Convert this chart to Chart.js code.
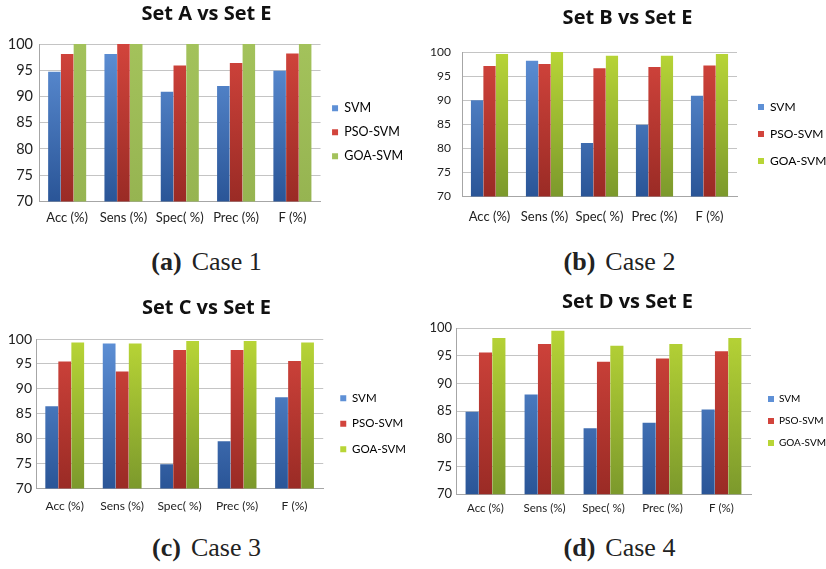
<!DOCTYPE html>
<html lang="en">
<head>
<meta charset="UTF-8">
<title>Set comparisons</title>
<script src="https://cdn.jsdelivr.net/npm/chart.js"></script>
<style>
    html, body { margin: 0; padding: 0; background: #fff; }
    .page { position: relative; width: 826px; height: 569px; overflow: hidden; }
    .panel { position: absolute; }
    .caption {
        position: absolute; width: 413px; text-align: center;
        font-family: "Liberation Serif", "DejaVu Serif", serif; font-size: 26px; color: #222;
    }
    .caption b { margin-right: 10px; }
</style>
</head>
<body>
<div class="page">
    <div class="panel" style="left:0;top:0"><canvas id="chartA"></canvas></div>
    <div class="panel" style="left:413px;top:0"><canvas id="chartB"></canvas></div>
    <div class="panel" style="left:0;top:285px"><canvas id="chartC"></canvas></div>
    <div class="panel" style="left:413px;top:285px"><canvas id="chartD"></canvas></div>
    <div class="caption" style="left:0;top:247px"><b>(a)</b>Case 1</div>
    <div class="caption" style="left:413px;top:247px"><b>(b)</b>Case 2</div>
    <div class="caption" style="left:0;top:533px"><b>(c)</b>Case 3</div>
    <div class="caption" style="left:413px;top:533px"><b>(d)</b>Case 4</div>
</div>

<script>
    const categories = ['Acc (%)', 'Sens (%)', 'Spec( %)', 'Prec (%)', 'F (%)'];
    const seriesNames = ['SVM', 'PSO-SVM', 'GOA-SVM'];
    const yTicks = [70, 75, 80, 85, 90, 95, 100];

    // Set A vs Set E
    const svmA = [94.7, 98.1, 90.9, 92.0, 94.9];
    const psoA = [98.1, 100, 95.9, 96.4, 98.2];
    const goaA = [100, 100, 100, 100, 100];

    // Set B vs Set E
    const svmB = [90.0, 98.2, 81.1, 84.9, 90.9];
    const psoB = [97.1, 97.5, 96.6, 96.9, 97.2];
    const goaB = [99.6, 100, 99.2, 99.2, 99.6];

    // Set C vs Set E
    const svmC = [86.5, 99.1, 74.9, 79.5, 88.3];
    const psoC = [95.5, 93.5, 97.8, 97.8, 95.6];
    const goaC = [99.3, 99.1, 99.6, 99.6, 99.3];

    // Set D vs Set E
    const svmD = [84.9, 88.0, 81.9, 82.9, 85.3];
    const psoD = [95.6, 97.1, 93.9, 94.5, 95.8];
    const goaD = [98.2, 99.5, 96.8, 97.1, 98.2];

    const FONT = 'Lato, "Open Sans", sans-serif';
    const TITLE_FONT = '"Open Sans", Lato, sans-serif';

    // top / bottom colours of each bar gradient
    const blue = ['#5e90d6', '#2a5597'];
    const red = ['#d2443c', '#9a2b25'];
    const greenFlat = ['#a3c25b', '#96b451'];
    const greenLime = ['#b8d536', '#7c992c'];

    function grad(pair) {
        return (ctx) => {
            const area = ctx.chart.chartArea;
            if (!area) return pair[0];
            const g = ctx.chart.ctx.createLinearGradient(0, area.top, 0, area.bottom);
            g.addColorStop(0, pair[0]);
            g.addColorStop(1, pair[1]);
            return g;
        };
    }

    // move the legend away from the plot like the Excel original,
    // and widen its clip box so the labels are not cut
    const legendNudge = {
        id: 'legendNudge',
        afterLayout(chart, args, opts) {
            const lg = chart.legend;
            lg.left += opts.dx;
            lg.right = lg.left + 150;
            lg.top += opts.dy;
            lg.bottom += opts.dy;
        }
    };

    function makeChart(id, title, svm, pso, goa, green, o) {
        const box = document.getElementById(id).parentNode;
        box.style.width = o.w + 'px';
        box.style.height = o.h + 'px';
        new Chart(document.getElementById(id), {
            type: 'bar',
            plugins: [legendNudge],
            data: {
                labels: categories,
                datasets: [
                    { label: seriesNames[0], data: svm, backgroundColor: grad(blue) },
                    { label: seriesNames[1], data: pso, backgroundColor: grad(red) },
                    { label: seriesNames[2], data: goa, backgroundColor: grad(green) }
                ]
            },
            options: {
                responsive: true,
                maintainAspectRatio: false,
                animation: false,
                datasets: { bar: { categoryPercentage: 0.68, barPercentage: 0.98 } },
                layout: { padding: { left: o.padL, top: 0, bottom: 0, right: 0 } },
                plugins: {
                    legendNudge: { dx: o.dx, dy: o.dy },
                    title: {
                        display: true, text: title, color: '#111',
                        font: { family: TITLE_FONT, size: 20, weight: 'bold', lineHeight: 1.2 },
                        padding: { top: o.titleTop, bottom: o.titleBottom }
                    },
                    legend: {
                        position: 'right',
                        align: 'start',
                        maxWidth: o.w - o.right,
                        labels: {
                            boxWidth: 6, boxHeight: 6, padding: o.legendPad,
                            color: '#222', font: { family: FONT, size: o.legendSize },
                            generateLabels: (chart) => chart.data.datasets.map((ds, i) => ({
                                text: ds.label,
                                fillStyle: [blue[0], red[0], green[0]][i],
                                strokeStyle: 'transparent', lineWidth: 0,
                                datasetIndex: i
                            }))
                        }
                    },
                    tooltip: { enabled: false }
                },
                scales: {
                    x: {
                        grid: { display: false, drawTicks: false },
                        border: { color: '#a6a6a6' },
                        ticks: { color: '#222', font: { family: FONT, size: o.xSize, lineHeight: 1.2 },
                                 padding: o.xPad, maxRotation: 0, autoSkip: false }
                    },
                    y: {
                        min: 70, max: 100,
                        afterBuildTicks: (axis) => { axis.ticks = yTicks.map(v => ({ value: v })); },
                        afterFit: (axis) => { axis.width = o.left - o.padL; },
                        grid: { color: '#c4c4c4', drawTicks: false },
                        border: { color: '#a6a6a6' },
                        ticks: { color: '#222', font: { family: FONT, size: o.ySize }, padding: o.yPad }
                    }
                }
            }
        });
    }

    makeChart('chartA', 'Set A vs Set E', svmA, psoA, goaA, greenFlat,
        { w: 413, h: 235, padL: 0, left: 39, right: 312, ySize: 14.5, yPad: 6, titleTop: 2, titleBottom: 18,
          xSize: 13, xPad: 9, legendSize: 12.5, legendPad: 11.5, dx: 0, dy: 90.5 });
    makeChart('chartB', 'Set B vs Set E', svmB, psoB, goaB, greenLime,
        { w: 413, h: 238, padL: 16, left: 49, right: 324, ySize: 12, yPad: 11, titleTop: 6, titleBottom: 22,
          xSize: 13, xPad: 13, legendSize: 12, legendPad: 15, dx: 6, dy: 86 });
    makeChart('chartC', 'Set C vs Set E', svmC, psoC, goaC, greenLime,
        { w: 413, h: 238, padL: 0, left: 36, right: 320, ySize: 14, yPad: 4, titleTop: 11, titleBottom: 19,
          xSize: 12, xPad: 10, legendSize: 11.5, legendPad: 14, dx: 3, dy: 93.5 });
    makeChart('chartD', 'Set D vs Set E', svmD, psoD, goaD, greenLime,
        { w: 413, h: 237, padL: 16, left: 43, right: 338, ySize: 13, yPad: 4, titleTop: 5, titleBottom: 14,
          xSize: 11.5, xPad: 7, legendSize: 10, legendPad: 12, dx: 5, dy: 97 });
</script>
</body>
</html>
